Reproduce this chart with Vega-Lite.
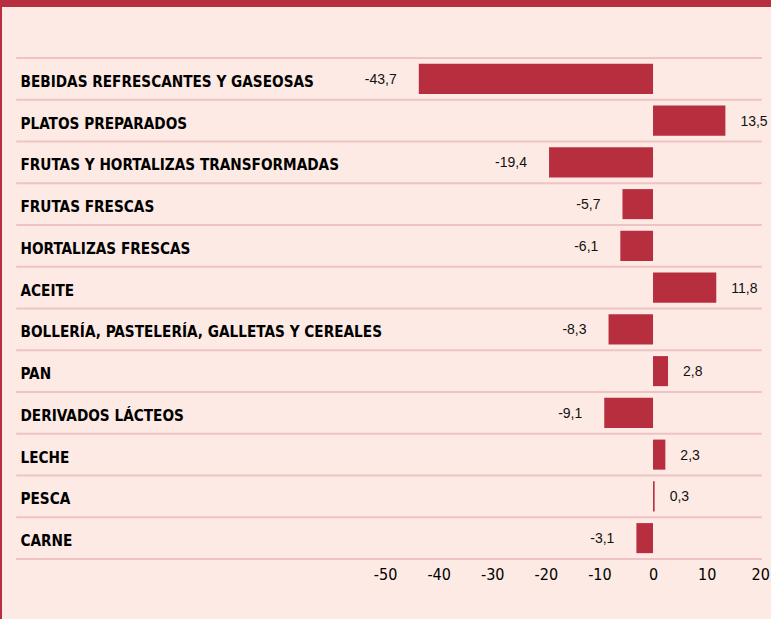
{
  "$schema": "https://vega.github.io/schema/vega-lite/v6.json",
  "width": 769,
  "height": 612,
  "autosize": {"type": "none"},
  "padding": {"left": 2, "top": 7, "right": 0, "bottom": 0},
  "background": "#b72f3f",
  "config": {
    "view": {"fill": "#fdeae4", "stroke": null},
    "locale": {"number": {"decimal": ",", "thousands": ".", "grouping": [3], "currency": ["", " €"], "minus": "-"}}
  },
  "title": {
    "text": "(%)",
    "anchor": "start",
    "orient": "top",
    "offset": 0,
    "dx": 118,
    "baseline": "alphabetic",
    "color": "#ffffff",
    "font": "DejaVu Sans Condensed, sans-serif",
    "fontSize": 17,
    "fontWeight": "bold"
  },
  "data": {
    "values": [
      {"cat": "BEBIDAS REFRESCANTES Y GASEOSAS", "v": -43.7},
      {"cat": "PLATOS PREPARADOS", "v": 13.5},
      {"cat": "FRUTAS Y HORTALIZAS TRANSFORMADAS", "v": -19.4},
      {"cat": "FRUTAS FRESCAS", "v": -5.7},
      {"cat": "HORTALIZAS FRESCAS", "v": -6.1},
      {"cat": "ACEITE", "v": 11.8},
      {"cat": "BOLLERÍA, PASTELERÍA, GALLETAS Y CEREALES", "v": -8.3},
      {"cat": "PAN", "v": 2.8},
      {"cat": "DERIVADOS LÁCTEOS", "v": -9.1},
      {"cat": "LECHE", "v": 2.3},
      {"cat": "PESCA", "v": 0.3},
      {"cat": "CARNE", "v": -3.1}
    ]
  },
  "layer": [
    {
      "mark": {"type": "rule", "color": "#eec3c3", "strokeWidth": 2},
      "encoding": {
        "x": {"datum": -118.8, "type": "quantitative"},
        "x2": {"datum": 20.3},
        "y": {"field": "cat", "type": "nominal", "bandPosition": 0, "sort": null}
      }
    },
    {
      "mark": {"type": "rule", "color": "#eec3c3", "strokeWidth": 2},
      "encoding": {
        "x": {"datum": -118.8, "type": "quantitative"},
        "x2": {"datum": 20.3},
        "y": {"datum": "CARNE", "type": "nominal", "bandPosition": 1}
      }
    },
    {
      "mark": {"type": "bar", "color": "#b72e3f", "height": {"band": 0.72}},
      "encoding": {
        "x": {
          "field": "v",
          "type": "quantitative",
          "scale": {"domain": [-121.46, 22.01], "nice": false, "zero": false},
          "axis": {
            "orient": "bottom",
            "offset": -60,
            "values": [-50, -40, -30, -20, -10, 0, 10, 20],
            "grid": false,
            "domain": false,
            "ticks": false,
            "title": null,
            "labelFont": "DejaVu Sans Condensed, sans-serif",
            "labelFontSize": 16,
            "labelFontWeight": "normal",
            "labelColor": "#000000",
            "labelBaseline": "middle",
            "labelPadding": 15,
            "labelFlush": false
          }
        },
        "y": {
          "field": "cat",
          "type": "nominal",
          "sort": null,
          "scale": {"paddingInner": 0, "paddingOuter": 0, "range": [51, 552]},
          "axis": {
            "orient": "left",
            "title": null,
            "domain": false,
            "ticks": false,
            "grid": false,
            "labelAlign": "left",
            "labelPadding": -18,
            "labelOffset": 3,
            "labelLimit": 0,
            "labelFont": "DejaVu Sans Condensed, sans-serif",
            "labelFontSize": 15.2,
            "labelFontWeight": "bold",
            "labelColor": "#000000"
          }
        }
      }
    },
    {
      "mark": {"type": "rule", "color": "#efc3c3", "strokeWidth": 1.5},
      "encoding": {
        "x": {"datum": 0, "type": "quantitative"},
        "y": {"field": "cat", "type": "nominal", "sort": null}
      }
    },
    {
      "transform": [{"filter": "datum.v < 0"}],
      "mark": {"type": "text", "align": "right", "baseline": "middle", "dx": -22, "dy": 1, "font": "Liberation Sans, DejaVu Sans, sans-serif", "fontSize": 14, "color": "#111111"},
      "encoding": {
        "x": {"field": "v", "type": "quantitative"},
        "y": {"field": "cat", "type": "nominal", "sort": null},
        "text": {"field": "v", "type": "quantitative", "format": ".1f"}
      }
    },
    {
      "transform": [{"filter": "datum.v >= 0"}],
      "mark": {"type": "text", "align": "left", "baseline": "middle", "dx": 15, "dy": 1, "font": "Liberation Sans, DejaVu Sans, sans-serif", "fontSize": 14, "color": "#111111"},
      "encoding": {
        "x": {"field": "v", "type": "quantitative"},
        "y": {"field": "cat", "type": "nominal", "sort": null},
        "text": {"field": "v", "type": "quantitative", "format": ".1f"}
      }
    }
  ]
}
